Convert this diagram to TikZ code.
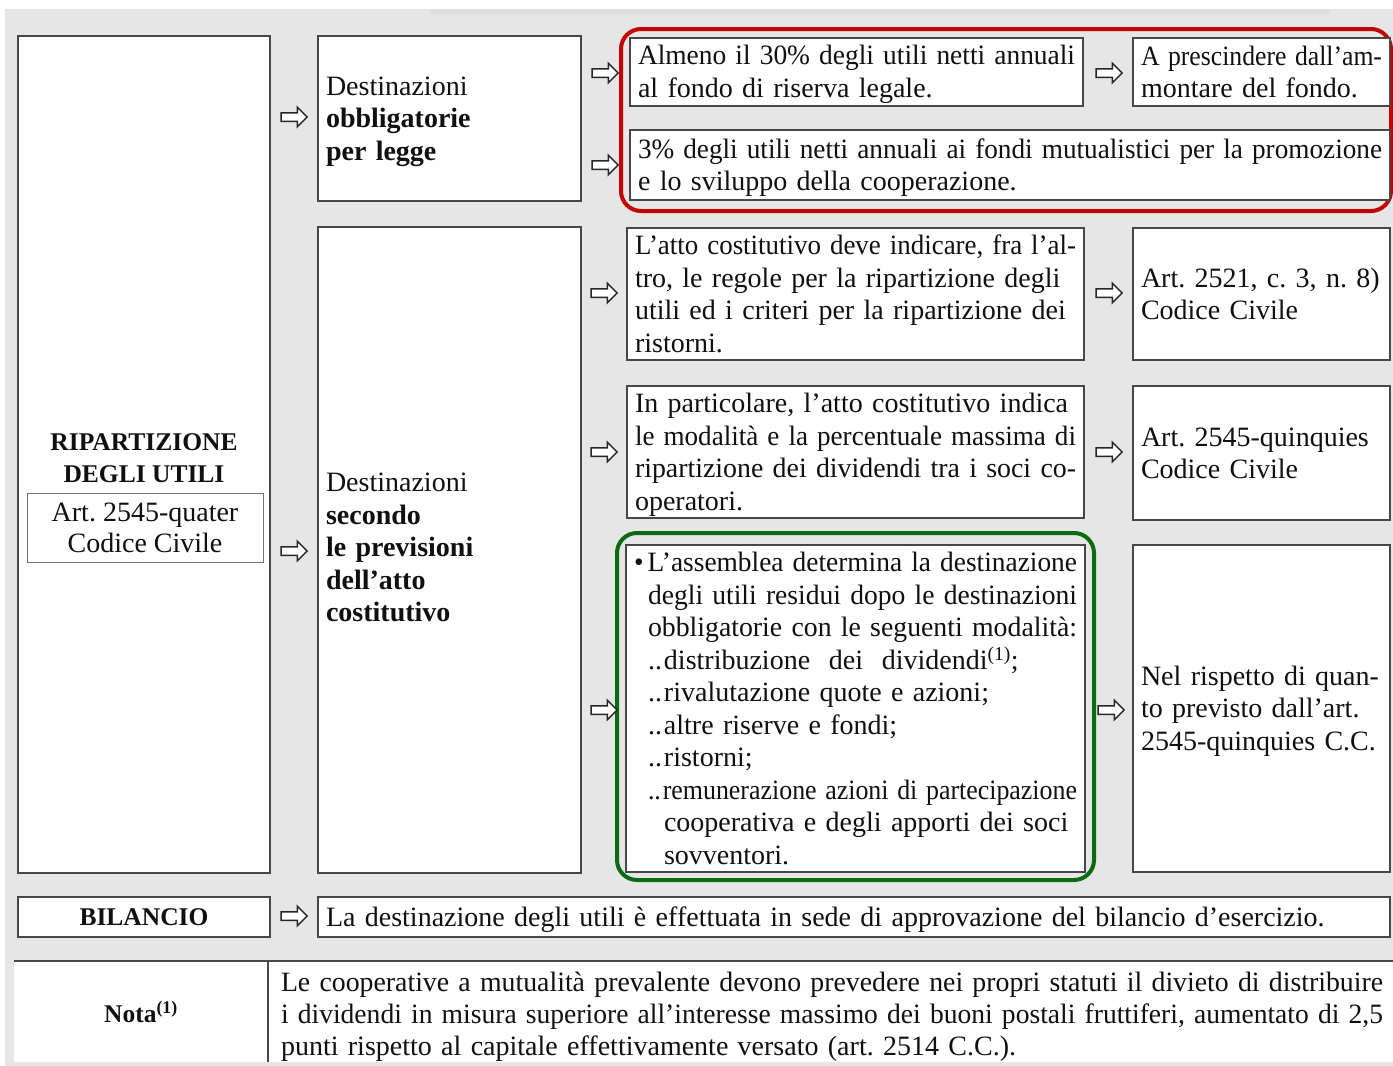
\documentclass[tikz,border=0pt]{standalone}
\usepackage{fontspec}
\usepackage{graphicx}
\setmainfont{Liberation Serif}
\usetikzlibrary{shapes.arrows,calc}
\definecolor{bgc}{HTML}{E6E6E6}
\definecolor{redc}{HTML}{C40000}
\definecolor{greenc}{HTML}{0B6A12}
\definecolor{txt}{HTML}{101010}
\frenchspacing
\newlength\jlw
\newcommand\STR{\vrule height24.5pt depth5.5pt width0pt\relax}
\newcommand\JL[2][0pt]{\hbox to\hsize{\STR\hskip#1\relax
  \jlw=\dimexpr\hsize-#1\relax
  \setbox0=\hbox{#2}%
  \ifdim\wd0>\jlw \resizebox{\jlw}{\height}{\box0}\else\hbox to\jlw{#2}\fi}}
\newcommand\LL[2][0pt]{\hbox{\STR\hskip#1\relax #2}}
\newcommand\VB[2][0pt]{\raisebox{#1}{\vbox{#2}}}
\tikzset{
  bx/.style={draw=black!72, line width=1.6pt, fill=white, rectangle,
    inner xsep=8pt, inner ysep=0pt, text=txt,
    font=\fontsize{28}{32.5}\selectfont},
  harrow/.style={single arrow, draw=black!85, fill=white, line width=1.5pt,
    minimum height=26pt, inner xsep=0pt, inner ysep=3.5pt,
    single arrow head extend=5.5pt},
  hl/.style={rounded corners=20pt, line width=4pt},
  bold/.style={font=\bfseries\fontsize{25.5}{32}\selectfont, text=txt}
}
\begin{document}
\begin{tikzpicture}[x=1pt,y=-1pt]
\useasboundingbox (0,0) rectangle (1393,1066);
\fill[white] (0,0) rectangle (1393,1066);
\fill[bgc] (5,9) rectangle (1393,1066);
\fill[black!13] (430,9) rectangle (1330,14);
% note area
\fill[white] (14,961) rectangle (1393,1062);
\coordinate (n1) at (14,961);
\coordinate (n2) at (1393,961);
\coordinate (n3) at (268,961);
\coordinate (n4) at (268,1062);
\draw[black!72, line width=1.6pt] (n1) -- (n2);
\draw[black!72, line width=1.2pt] (n3) -- (n4);

% left column
\node[bx, minimum width=252pt, minimum height=837pt] (L) at (144,454.5) {};
\node[bold, align=center, inner sep=0pt] (Lh) at (144,458) {RIPARTIZIONE\\DEGLI UTILI};
\node[draw=black!55, line width=1pt, fill=white, minimum width=236pt, minimum height=69pt,
  inner sep=0pt, align=center, text=txt, font=\fontsize{28}{31}\selectfont] (La) at (145,527.5)
  {Art. 2545-quater\\Codice Civile};

\node[bx, minimum width=263pt, minimum height=165pt, text width=247pt] (O) at (449.5,118.5)
  {\VB{\LL{Destinazioni}\LL{\bfseries obbligatorie}\LL{\bfseries per legge}}};
\node[bx, minimum width=263pt, minimum height=646pt, text width=247pt] (S) at (449.5,550)
  {\VB[11pt]{\LL{Destinazioni}\LL{\bfseries secondo}\LL{\bfseries le previsioni}\LL{\bfseries dell’atto}\LL{\bfseries costitutivo}}};

% highlight frames
\draw[hl, draw=redc] (621,29) rectangle (1391,211);
\draw[hl, draw=greenc] (617,533) rectangle (1094,880);

% right column boxes
\node[bx, minimum width=453pt, minimum height=68pt, text width=437pt] (A) at (856.5,72)
  {\VB{\JL{Almeno il 30\% degli utili netti annuali}\LL{al fondo di riserva legale.}}};
\node[bx, minimum width=257pt, minimum height=68pt, text width=241pt] (P) at (1261.5,72)
  {\VB{\JL{A prescindere dall’am-}\LL{montare del fondo.}}};
\node[bx, minimum width=760pt, minimum height=70pt, text width=744pt] (T) at (1010,165)
  {\VB{\JL{3\% degli utili netti annuali ai fondi mutualistici per la promozione}\LL{e lo sviluppo della cooperazione.}}};
\node[bx, minimum width=457pt, minimum height=132pt, text width=441pt] (At) at (855.5,294)
  {\VB{\JL{L’atto costitutivo deve indicare, fra l’al-}\JL{tro, le regole per la ripartizione degli}\JL{utili ed i criteri per la ripartizione dei}\LL{ristorni.}}};
\node[bx, minimum width=257pt, minimum height=132pt, text width=241pt] (R1) at (1261.5,294)
  {\VB{\LL{Art. 2521, c. 3, n. 8)}\LL{Codice Civile}}};
\node[bx, minimum width=457pt, minimum height=132pt, text width=441pt] (IP) at (855.5,452)
  {\VB{\JL{In particolare, l’atto costitutivo indica}\JL{le modalità e la percentuale massima di}\JL{ripartizione dei dividendi tra i soci co-}\LL{operatori.}}};
\node[bx, minimum width=257pt, minimum height=134pt, text width=241pt] (R2) at (1261.5,453)
  {\VB{\LL{Art. 2545-quinquies}\LL{Codice Civile}}};
\node[bx, minimum width=459pt, minimum height=327pt, text width=443pt] (As) at (855.5,708.5)
  {\VB{\JL{\makebox[14pt][l]{•}L’assemblea determina la destinazione}%
   \JL[14pt]{degli utili residui dopo le destinazioni}%
   \JL[14pt]{obbligatorie con le seguenti modalità:}%
   \LL[14pt]{\makebox[16pt][l]{..}distribuzione\ \ dei\ \ dividendi\textsuperscript{(1)};}%
   \LL[14pt]{\makebox[16pt][l]{..}rivalutazione quote e azioni;}%
   \LL[14pt]{\makebox[16pt][l]{..}altre riserve e fondi;}%
   \LL[14pt]{\makebox[16pt][l]{..}ristorni;}%
   \JL[14pt]{\makebox[16pt][l]{..}remunerazione azioni di partecipazione}%
   \JL[30pt]{cooperativa e degli apporti dei soci}%
   \LL[30pt]{sovventori.}}};
\node[bx, minimum width=257pt, minimum height=327pt, text width=241pt] (NR) at (1261.5,708.5)
  {\VB{\JL{Nel rispetto di quan-}\JL{to previsto dall’art.}\LL{2545-quinquies C.C.}}};

% bilancio row
\node[bx, minimum width=252pt, minimum height=40pt, font=\bfseries\fontsize{25.5}{32}\selectfont] (B) at (144,917) {BILANCIO};
\node[bx, minimum width=1072pt, minimum height=40pt, text width=1056pt] (LD) at (854,917)
  {\VB{\LL{La destinazione degli utili è effettuata in sede di approvazione del bilancio d’esercizio.}}};

% note
\node[bold, inner sep=0pt] (Nt) at (141,1012) {Nota\textsuperscript{(1)}};
\node[text width=1102pt, inner sep=0pt, text=txt, font=\fontsize{28}{32}\selectfont] (Nx) at (832,1014)
  {\VB{\JL{Le cooperative a mutualità prevalente devono prevedere nei propri statuti il divieto di distribuire}%
   \JL{i dividendi in misura superiore all’interesse massimo dei buoni postali fruttiferi, aumentato di 2,5}%
   \LL{punti rispetto al capitale effettivamente versato (art. 2514 C.C.).}}};

% arrows
\node[harrow] (a1) at (292,117) {};
\node[harrow] (a2) at (292,551) {};
\node[harrow] (a3) at (292,916) {};
\node[harrow] (a4) at (603,73) {};
\node[harrow] (a5) at (603,165) {};
\node[harrow] (a6) at (602,293) {};
\node[harrow] (a7) at (602,452) {};
\node[harrow] (a8) at (602,710) {};
\node[harrow] (a9) at (1107,73) {};
\node[harrow] (a10) at (1107,293) {};
\node[harrow] (a11) at (1107,452) {};
\node[harrow] (a12) at (1109,710) {};
\end{tikzpicture}
\end{document}
